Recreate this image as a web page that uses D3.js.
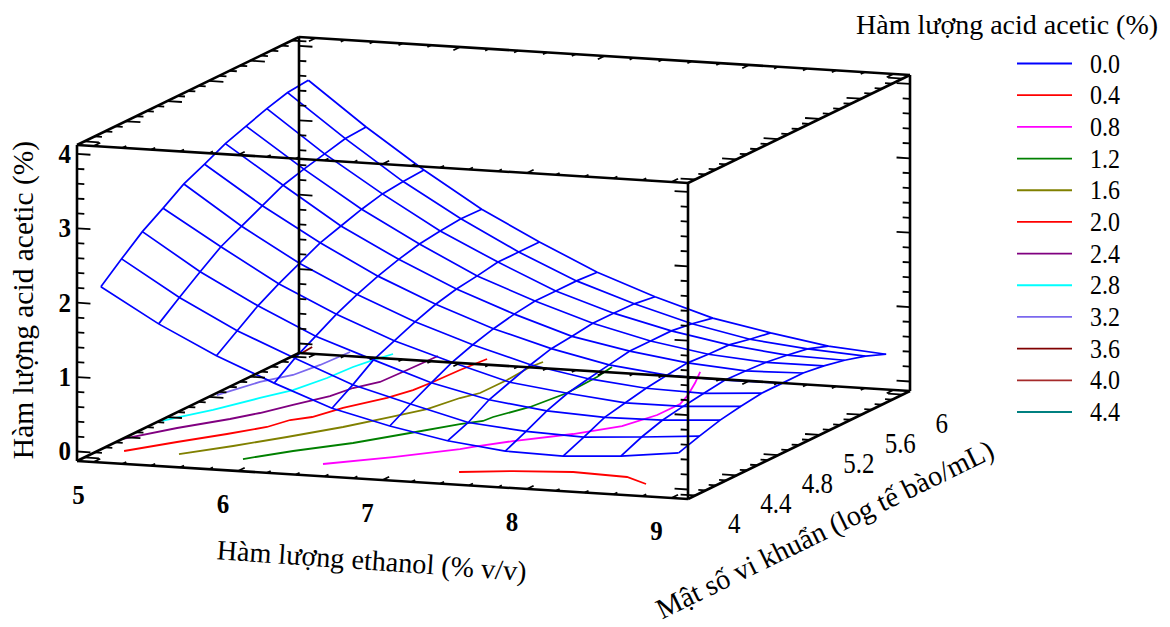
<!DOCTYPE html>
<html>
<head>
<meta charset="utf-8">
<script src="https://cdn.jsdelivr.net/npm/d3@7"></script>
<style>
  html, body { margin: 0; padding: 0; background: #fff; }
  text { font-family: "Liberation Serif", serif; fill: #000; }
</style>
</head>
<body>
<svg id="graph-svg" width="1170" height="627"></svg>
<script>
'use strict';

/* -- Data ------------------------------------------------------------------ */
const ethanol = [5, 5.4, 5.8, 6.2, 6.6, 7, 7.4, 7.8, 8.2, 8.6, 9];
const density = [4, 4.2, 4.4, 4.6, 4.8, 5, 5.2, 5.4, 5.6, 5.8, 6];

// one row per density value, one column per ethanol value
const acetic = [
    [2.18, 1.73, 1.35, 1.03, 0.74, 0.55, 0.40, 0.31, 0.29, 0.34, 0.43],
    [2.42, 1.95, 1.55, 1.23, 0.92, 0.71, 0.51, 0.44, 0.41, 0.46, 0.52],
    [2.65, 2.16, 1.75, 1.39, 1.12, 0.86, 0.68, 0.58, 0.54, 0.55, 0.60],
    [2.83, 2.36, 1.91, 1.55, 1.24, 1.00, 0.78, 0.68, 0.60, 0.60, 0.65],
    [3.02, 2.50, 2.05, 1.68, 1.36, 1.10, 0.88, 0.74, 0.66, 0.64, 0.69],
    [3.15, 2.64, 2.19, 1.79, 1.46, 1.18, 0.96, 0.79, 0.70, 0.68, 0.69],
    [3.29, 2.78, 2.28, 1.88, 1.53, 1.24, 0.99, 0.84, 0.73, 0.67, 0.69],
    [3.39, 2.86, 2.37, 1.95, 1.57, 1.28, 1.03, 0.84, 0.71, 0.65, 0.65],
    [3.49, 2.93, 2.44, 1.99, 1.62, 1.28, 1.03, 0.84, 0.70, 0.61, 0.59],
    [3.57, 3.00, 2.47, 2.02, 1.62, 1.28, 1.02, 0.80, 0.64, 0.56, 0.51],
    [3.60, 3.02, 2.49, 2.01, 1.62, 1.26, 0.98, 0.74, 0.59, 0.46, 0.40]
];

// contour lines on the floor, [ethanol, density]
const contour04 = [[7.369, 4.154], [7.688, 4.23], [8.069, 4.279], [8.463, 4.25], [8.668, 4.148]];
const contour08 = [[6.433, 4.146], [6.775, 4.345], [7.085, 4.559], [7.139, 4.609], [7.31, 4.757], [7.589, 4.946], [7.789, 5.14], [7.866, 5.372], [7.868, 5.59], [7.803, 5.757], [7.695, 5.975], [7.587, 6.175]];
const contour12 = [[5.879, 4.146], [6.085, 4.342], [6.352, 4.548], [6.576, 4.786], [6.769, 4.998], [6.872, 5.077], [6.884, 5.158], [6.985, 5.374], [7.035, 5.66], [7.017, 5.974], [6.983, 6.166]];
const contour16 = [[5.423, 4.164], [5.654, 4.364], [5.871, 4.581], [6.089, 4.818], [6.252, 5.045], [6.378, 5.226], [6.441, 5.455], [6.501, 5.565], [6.503, 5.823], [6.48, 6.076], [6.497, 6.178]];
const contour20 = [[5.048, 4.157], [5.259, 4.373], [5.465, 4.568], [5.622, 4.735], [5.676, 4.883], [5.773, 4.96], [5.849, 5.152], [5.993, 5.376], [6.052, 5.544], [6.073, 5.707], [6.088, 5.947], [6.115, 6.17]];
const contour24 = [[4.883, 4.365], [5.083, 4.619], [5.294, 4.835], [5.402, 4.973], [5.504, 5.15], [5.618, 5.348], [5.658, 5.514], [5.748, 5.649], [5.763, 5.89], [5.772, 6.069], [5.776, 6.169]];
const contour28 = [[4.902, 4.726], [4.962, 4.816], [5.076, 4.975], [5.213, 5.237], [5.315, 5.413], [5.373, 5.661], [5.393, 5.883], [5.428, 6.027], [5.475, 6.155]];
const contour32 = [[4.911, 5.242], [5.011, 5.518], [5.126, 5.677], [5.166, 5.883], [5.186, 6.143]];
const contour36 = [[4.903, 6.073], [4.89, 6.19]];

const legendLevels = ['0.0', '0.4', '0.8', '1.2', '1.6', '2.0', '2.4', '2.8', '3.2', '3.6', '4.0', '4.4'];
const legendColors = ['#0000ff', '#ff0000', '#ff00ff', '#008000', '#808000', '#ff0000', '#800080', '#00ffff', '#7b68ee', '#800000', '#a52a2a', '#008080'];
const contourLines = [[], contour04, contour08, contour12, contour16, contour20, contour24, contour28, contour32, contour36];

const xTickLabels = [5, 6, 7, 8, 9];
const yTickLabels = ['4', '4.4', '4.8', '5.2', '5.6', '6'];
const zTickLabels = [0, 1, 2, 3, 4];

/* -- Oblique projection of the box ----------------------------------------- */
const origin = [77, 461];
const xVector = [611, 38];
const yVector = [222, -108];
const zVector = [0, -316];

const xScale = d3.scaleLinear().domain([4.885, 9.115]).range([0, 1]);
const yScale = d3.scaleLinear().domain([3.93, 6.07]).range([0, 1]);
const zScale = d3.scaleLinear().domain([-0.128, 4.12]).range([0, 1]);

const toScreen = function(u, v, w) {
    return [
        origin[0] + u * xVector[0] + v * yVector[0] + w * zVector[0],
        origin[1] + u * xVector[1] + v * yVector[1] + w * zVector[1]
    ];
};
const project = function(x, y, z) {
    return toScreen(xScale(x), yScale(y), zScale(z));
};

const svg = d3.select('#graph-svg');
const line = d3.line();

/* -- Contours on the floor ------------------------------------------------- */
const contourGroup = svg.append('g').attr('fill', 'none').attr('stroke-width', 1.8);
contourLines.forEach(function(points, i) {
    if (points.length === 0) { return; }
    contourGroup.append('path')
        .attr('d', line(points.map(function(p) { return toScreen(xScale(p[0]), yScale(p[1]), 0); })))
        .attr('stroke', legendColors[i]);
});

/* -- Surface wireframe ----------------------------------------------------- */
const wire = svg.append('g').attr('fill', 'none').attr('stroke', '#0000ff').attr('stroke-width', 1.7);
density.forEach(function(y, j) {
    wire.append('path').attr('d', line(ethanol.map(function(x, i) { return project(x, y, acetic[j][i]); })));
});
ethanol.forEach(function(x, i) {
    wire.append('path').attr('d', line(density.map(function(y, j) { return project(x, y, acetic[j][i]); })));
});

/* -- Box edges ------------------------------------------------------------- */
const box = svg.append('g').attr('stroke', '#000').attr('fill', 'none');
const edge = function(a, b, width) {
    box.append('path').attr('d', line([a, b])).attr('stroke-width', width);
};
[0, 1].forEach(function(w) {
    edge(toScreen(0, 0, w), toScreen(1, 0, w), 2.6);
    edge(toScreen(0, 1, w), toScreen(1, 1, w), 2.6);
    edge(toScreen(0, 0, w), toScreen(0, 1, w), 2.6);
    edge(toScreen(1, 0, w), toScreen(1, 1, w), 2.6);
});
[[0, 0], [1, 0], [0, 1], [1, 1]].forEach(function(c) {
    edge(toScreen(c[0], c[1], 0), toScreen(c[0], c[1], 1), 2.6);
});

/* -- Ticks, pointing into the box ------------------------------------------ */
const tick = function(a, b) {
    box.append('path').attr('d', line([a, b])).attr('stroke-width', 1.8);
};
const zMajor = d3.range(0, 4.01, 1);
d3.range(0, 4.01, 0.2).forEach(function(z) {
    const isMajor = zMajor.some(function(m) { return Math.abs(m - z) < 1e-6; });
    const len = isMajor ? 0.022 : 0.012;
    const w = zScale(z);
    tick(toScreen(0, 0, w), toScreen(len, 0, w));
    tick(toScreen(0, 1, w), toScreen(len, 1, w));
    tick(toScreen(1, 0, w), toScreen(1 - len, 0, w));
    tick(toScreen(1, 1, w), toScreen(1 - len, 1, w));
});
d3.range(4, 6.01, 0.1).forEach(function(y, i) {
    const len = (i % 4 === 0) ? 0.024 : 0.012;
    const v = yScale(y);
    [0, 1].forEach(function(w) {
        tick(toScreen(0, v, w), toScreen(len, v, w));
        tick(toScreen(1, v, w), toScreen(1 - len, v, w));
    });
});
d3.range(5, 9.01, 0.2).forEach(function(x, i) {
    const len = (i % 5 === 0) ? 0.03 : 0.017;
    const u = xScale(x);
    [0, 1].forEach(function(w) {
        tick(toScreen(u, 0, w), toScreen(u, len, w));
        tick(toScreen(u, 1, w), toScreen(u, 1 - len, w));
    });
});

/* -- Tick labels ----------------------------------------------------------- */
const labels = svg.append('g');
const label = function(pos, str, size, weight, anchor, rotate, stretch) {
    labels.append('text')
        .attr('transform', 'translate(' + pos[0] + ',' + pos[1] + ') rotate(' + (rotate || 0) + ') scale(1,' + (stretch || 1) + ')')
        .attr('text-anchor', anchor || 'middle')
        .attr('font-size', size)
        .attr('font-weight', weight || 'normal')
        .text(str);
};
zTickLabels.forEach(function(z) {
    const p = project(4.885, 3.93, z);
    label([p[0] - 6, p[1] + 9], z, 25, 'bold', 'end', 0, 1.12);
});
xTickLabels.forEach(function(x) {
    const p = project(x, 3.93, -0.128);
    label([p[0] - 15, p[1] + 42], x, 25, 'bold', 'middle', 0, 1.12);
});
yTickLabels.forEach(function(y) {
    const p = project(9.115, +y, -0.128);
    label([p[0] + 39, p[1] + 38], y, 25, 'normal', 'middle', 0, 1.15);
});

/* -- Axis titles ----------------------------------------------------------- */
label([33, 300], 'Hàm lượng acid acetic (%)', 29.5, 'normal', 'middle', -90);
label([371, 570], 'Hàm lượng ethanol (% v/v)', 28.2, 'normal', 'middle', 4);
label([829, 538], 'Mật số vi khuẩn (log tế bào/mL)', 28.6, 'normal', 'middle', -26);

/* -- Legend ---------------------------------------------------------------- */
label([856, 34], 'Hàm lượng acid acetic (%)', 28, 'normal', 'start');
const legendY = d3.scalePoint().domain(legendLevels).range([63.5, 412]);
legendLevels.forEach(function(level, i) {
    svg.append('line')
        .attr('x1', 1017).attr('x2', 1072)
        .attr('y1', legendY(level)).attr('y2', legendY(level))
        .attr('stroke', legendColors[i]).attr('stroke-width', 1.8);
    label([1090, legendY(level) + 9], level, 24, 'normal', 'start', 0, 1.13);
});
</script>
</body>
</html>
